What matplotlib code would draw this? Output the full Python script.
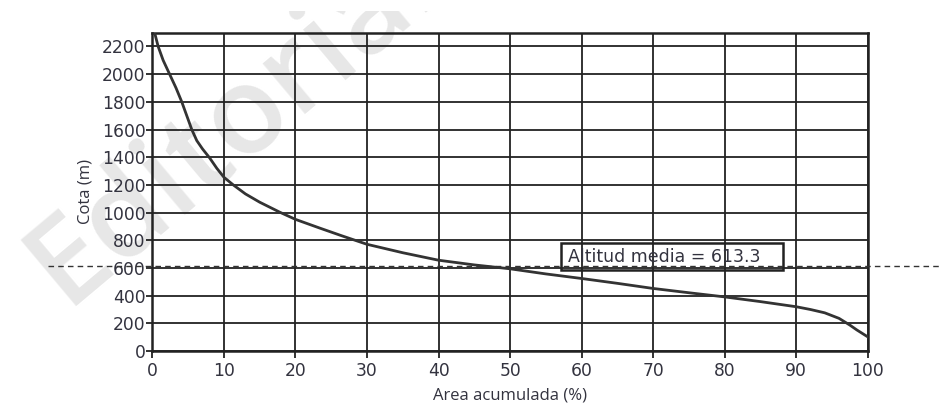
import matplotlib
matplotlib.use('Agg')
import matplotlib.pyplot as plt
from matplotlib.patches import Rectangle
from matplotlib.lines import Line2D
import matplotlib.transforms as mtransforms

# ===== DATA =====
AREA_PCT = [0.3, 0.8, 1.5, 2.4, 3.3, 4.1, 4.8, 5.5, 6.2, 7.0, 8.0, 9.0, 10.0,
            11.3, 13.0, 15.0, 17.8, 20.0, 23.4, 26.5, 30.0, 35.0, 40.0, 45.0,
            50.0, 55.0, 60.0, 65.0, 70.0, 75.0, 80.0, 85.0, 90.0, 92.0, 94.0,
            96.0, 97.5, 98.5, 100.0]
COTA = [2300, 2200, 2100, 2000, 1900, 1800, 1700, 1600, 1520, 1460, 1395,
        1320, 1255, 1200, 1135, 1075, 1003, 951, 888, 832, 771, 710, 656,
        622, 594, 557, 524, 489, 452, 421, 391, 357, 320, 300, 276, 236, 188,
        152, 103]
ALTITUD_MEDIA = 613.3
X_TICKS = list(range(0, 101, 10))
Y_TICKS = list(range(0, 2201, 200))
# ===== END DATA =====

TXT = '#33333f'
plt.rcParams['font.family'] = ['Open Sans', 'DejaVu Sans']

fig = plt.figure(figsize=(9.41, 4.03), dpi=100)
ax = fig.add_axes([0.162, 0.129, 0.760, 0.790])

# faint publisher watermark behind everything, cut off near the top edge
wm = fig.text(0.248, 0.695, 'Editorial', fontsize=88, fontweight='semibold',
              color='#e7e7e7', rotation=40, rotation_mode='anchor',
              ha='center', va='center', zorder=-1)
clip = Rectangle((0, 0), 1, 1 - 11 / 403, transform=fig.transFigure)
wm.set_clip_path(clip)
ax.patch.set_alpha(0)

ax.plot(AREA_PCT, COTA, color='#333333', linewidth=2.0, zorder=4)

ax.set_xlim(0, 100)
ax.set_ylim(0, 2300)
ax.set_xticks(X_TICKS)
ax.set_yticks(Y_TICKS)
ax.grid(True, color='#222222', linewidth=1.3)
ax.set_axisbelow(False)
for s in ax.spines.values():
    s.set_linewidth(1.8)
    s.set_color('#222222')
ax.tick_params(direction='out', width=1.3, color='#222222',
               labelsize=12.3, labelcolor=TXT)
ax.tick_params(axis='x', length=5, pad=3)
ax.tick_params(axis='y', length=4, pad=1)
for lbl in ax.get_xticklabels() + ax.get_yticklabels():
    lbl.set_family('DejaVu Sans')

ax.set_xlabel('Area acumulada (%)', fontsize=12, color=TXT, labelpad=5)
ax.set_ylabel('Cota (m)', fontsize=12, color=TXT, labelpad=6)

# mean altitude line runs past both sides of the axes
trans = mtransforms.blended_transform_factory(fig.transFigure, ax.transData)
fig.add_artist(Line2D([0.051, 1.0], [ALTITUD_MEDIA, ALTITUD_MEDIA], transform=trans,
                      color='#333333', linewidth=1.0, linestyle=(0, (4, 3)),
                      zorder=5))

# label box for the mean altitude
ax.add_patch(Rectangle((0.571, 0.2545), 0.311, 0.0845, transform=ax.transAxes,
                       facecolor='none', edgecolor='#222222', linewidth=1.8,
                       zorder=6))
ax.text(58.1, 681, f'Altitud media = {ALTITUD_MEDIA}', fontsize=12.5, color=TXT,
        family='DejaVu Sans', ha='left', va='center', zorder=6)

plt.savefig('out.png', dpi=100)
